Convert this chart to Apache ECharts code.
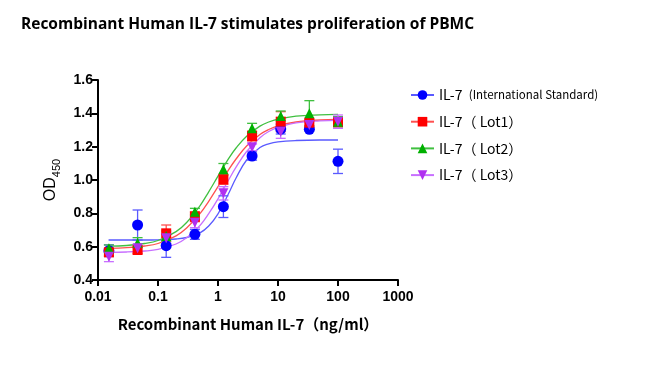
<!DOCTYPE html>
<html><head><meta charset="utf-8">
<script src="https://cdn.jsdelivr.net/npm/echarts@6/dist/echarts.min.js"></script>
<style>html,body{margin:0;padding:0;background:#fff}#c{width:662px;height:367px}</style>
</head><body><div id="c"></div>
<script>
// ---- data ----
const doses = [0.0152, 0.0457, 0.137, 0.412, 1.23, 3.70, 11.1, 33.3, 100];
const seriesNames = ['IL-7 (International Standard)', 'IL-7（ Lot1）', 'IL-7（ Lot2）', 'IL-7（ Lot3）'];
const meanIS   = [0.576, 0.73, 0.606, 0.674, 0.84, 1.144, 1.306, 1.304, 1.112];
const errIS    = [0.035, 0.09, 0.07, 0.03, 0.065, 0.025, 0.03, 0.01, 0.073];
const meanLot1 = [0.566, 0.58, 0.68, 0.78, 1.004, 1.264, 1.35, 1.344, 1.348];
const errLot1  = [0.02, 0.02, 0.05, 0.03, 0.03, 0.03, 0.06, 0.02, 0.03];
const meanLot2 = [0.59, 0.624, 0.664, 0.81, 1.064, 1.31, 1.384, 1.40, 1.35];
const errLot2  = [0.02, 0.03, 0.03, 0.02, 0.035, 0.03, 0.03, 0.076, 0.03];
const meanLot3 = [0.54, 0.59, 0.65, 0.744, 0.92, 1.196, 1.29, 1.33, 1.35];
const errLot3  = [0.03, 0.02, 0.03, 0.03, 0.04, 0.02, 0.04, 0.02, 0.04];
// fitted curves
const curveX    = [0.015,0.03,0.06,0.1,0.2,0.3,0.5,0.7,1,1.5,2,3,5,7,10,20,50,100];
const curveIS   = [0.64,0.64,0.64,0.641,0.646,0.655,0.683,0.724,0.797,0.919,1.012,1.12,1.195,1.217,1.229,1.237,1.24,1.24];
const curveLot1 = [0.59,0.594,0.604,0.619,0.665,0.712,0.798,0.872,0.96,1.061,1.126,1.204,1.273,1.303,1.325,1.348,1.36,1.363];
const curveLot2 = [0.603,0.607,0.619,0.637,0.69,0.745,0.845,0.929,1.023,1.128,1.192,1.263,1.323,1.348,1.365,1.383,1.391,1.394];
const curveLot3 = [0.566,0.568,0.574,0.584,0.616,0.653,0.727,0.798,0.887,1.0,1.077,1.171,1.254,1.291,1.316,1.343,1.355,1.358];
const xTicks = [0.01, 0.1, 1, 10, 100, 1000];
const yTicks = [0.4, 0.6, 0.8, 1.0, 1.2, 1.4, 1.6];

const groups = [
  {name: seriesNames[0], mean: meanIS,   err: errIS,   curve: curveIS,   symbol: 'circle',   size: 11, color: '#0000ff', light: '#5a5aff'},
  {name: seriesNames[1], mean: meanLot1, err: errLot1, curve: curveLot1, symbol: 'rect',     size: 10, color: '#ff0000', light: '#ff5050'},
  {name: seriesNames[2], mean: meanLot2, err: errLot2, curve: curveLot2, symbol: 'triangle', size: 10, color: '#00b000', light: '#40c040'},
  {name: seriesNames[3], mean: meanLot3, err: errLot3, curve: curveLot3, symbol: 'path://M0,0 L10,0 L5,9 Z', size: 10, color: '#b030f0', light: '#c870ff'}
];

const series = [];
groups.forEach(g => {
  series.push({
    name: g.name, type: 'line', symbol: g.symbol, symbolSize: g.size, showSymbol: false,
    smooth: 0.4, itemStyle: {color: g.color}, lineStyle: {color: g.light, width: 1.3},
    data: curveX.map((x, i) => [x, g.curve[i]]), z: 2, silent: true
  });
});
groups.forEach(g => {
  series.push({
    name: g.name, type: 'custom', z: 3, silent: true,
    data: doses.map((x, i) => [x, g.mean[i] - g.err[i], g.mean[i] + g.err[i]]),
    renderItem: function (params, api) {
      const lo = api.coord([api.value(0), api.value(1)]);
      const hi = api.coord([api.value(0), api.value(2)]);
      const w = 5;
      return {type: 'group', children: [
        {type: 'line', shape: {x1: lo[0], y1: lo[1], x2: hi[0], y2: hi[1]}, style: {stroke: g.light, lineWidth: 1.3}},
        {type: 'line', shape: {x1: lo[0]-w, y1: lo[1], x2: lo[0]+w, y2: lo[1]}, style: {stroke: g.light, lineWidth: 1.3}},
        {type: 'line', shape: {x1: hi[0]-w, y1: hi[1], x2: hi[0]+w, y2: hi[1]}, style: {stroke: g.light, lineWidth: 1.3}}
      ]};
    }
  });
});
groups.forEach(g => {
  series.push({
    name: g.name, type: 'scatter', symbol: g.symbol, symbolSize: g.size, z: 4,
    itemStyle: {color: g.color, opacity: 1},
    data: doses.map((x, i) => [x, g.mean[i]])
  });
});

const chart = echarts.init(document.getElementById('c'), null, {renderer: 'canvas'});
chart.setOption({
  animation: false,
  backgroundColor: '#fff',
  title: {
    text: 'Recombinant Human IL-7 stimulates proliferation of PBMC',
    left: 16, top: 12,
    textStyle: {fontFamily: 'Open Sans', fontWeight: 'bold', fontSize: 15.5, color: '#000'}
  },
  grid: {left: 98, right: 264, top: 80, bottom: 87, containLabel: false},
  legend: {
    data: seriesNames, orient: 'vertical', left: 405, top: 82,
    itemWidth: 23, itemHeight: 12, itemGap: 10.7,
    formatter: function (n) {
      if (n === seriesNames[0]) return '{a|IL-7}  {b|(International Standard)}';
      return '{a|' + n + '}';
    },
    textStyle: {
      fontFamily: 'Noto Sans CJK SC', fontSize: 14, color: '#000', lineHeight: 16,
      rich: {a: {fontFamily: 'Noto Sans CJK SC', fontSize: 14, color: '#000', lineHeight: 16},
             b: {fontFamily: 'Noto Sans CJK SC', fontSize: 11.5, color: '#000', lineHeight: 16}}
    }
  },
  xAxis: {
    type: 'log', logBase: 10, min: 0.01, max: 1000,
    name: 'Recombinant Human IL-7（ng/ml）', nameLocation: 'middle', nameGap: 37,
    nameTextStyle: {fontFamily: 'Noto Sans CJK SC', fontWeight: 'bold', fontSize: 15, color: '#000'},
    axisLine: {lineStyle: {color: '#000', width: 2}},
    axisTick: {show: true, length: 6, inside: false, lineStyle: {color: '#000', width: 2}},
    minorTick: {show: false},
    splitLine: {show: false},
    axisLabel: {
      fontFamily: 'Liberation Sans', fontWeight: 'bold', fontSize: 14, color: '#000', margin: 10,
      formatter: function (v) {
        const m = xTicks.find(t => Math.abs(Math.log10(t) - Math.log10(v)) < 1e-6);
        return m === undefined ? '' : String(m);
      }
    }
  },
  yAxis: {
    type: 'value', min: 0.4, max: 1.6, interval: 0.2,
    name: '{a|OD}{b|450}', nameLocation: 'middle', nameGap: 39, nameRotate: 90,
    nameTextStyle: {
      rich: {a: {fontFamily: 'Liberation Sans', fontSize: 16, color: '#000', verticalAlign: 'bottom'},
             b: {fontFamily: 'Liberation Sans', fontSize: 11, color: '#000', verticalAlign: 'bottom', padding: [0, 0, -3, 0]}}
    },
    axisLine: {show: true, lineStyle: {color: '#000', width: 2}},
    axisTick: {show: true, length: 6, inside: false, lineStyle: {color: '#000', width: 2}},
    splitLine: {show: false},
    axisLabel: {
      fontFamily: 'Liberation Sans', fontWeight: 'bold', fontSize: 14, color: '#000', margin: 5,
      formatter: function (v) {
        const m = yTicks.find(t => Math.abs(t - v) < 1e-6);
        return m === undefined ? '' : m.toFixed(1);
      }
    }
  },
  series: series
});
</script></body></html>
